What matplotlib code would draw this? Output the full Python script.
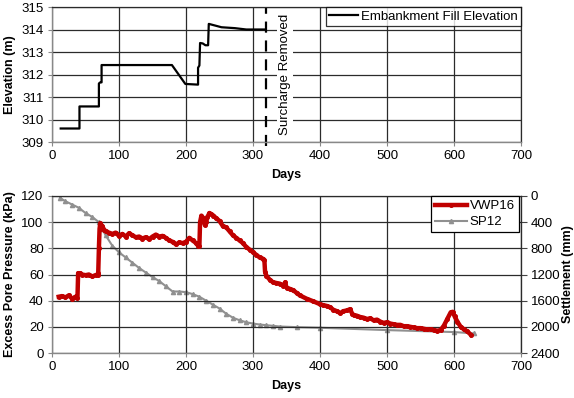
import matplotlib
matplotlib.use("Agg")
import matplotlib.pyplot as plt

plt.rcParams['font.family'] = ['Liberation Sans', 'DejaVu Sans']

# ---- Top chart: embankment fill elevation ----
fill_days = [13, 41, 41, 70, 70, 72, 74, 74, 179, 199, 218, 218, 220, 221, 225, 229, 233, 234, 253, 273, 290, 318]
fill_elev = [309.6, 309.6, 310.58, 310.58, 311.6, 311.65, 311.65, 312.42, 312.42, 311.58, 311.55, 312.3,
             312.4, 313.4, 313.38, 313.3, 313.3, 314.25, 314.1, 314.06, 314.0, 314.0]
surcharge_day = 319

# ---- Bottom chart: VWP16 excess pore pressure ----
vwp_days = [10, 15, 20, 25, 30, 35, 38, 39, 42, 45, 50, 55, 60, 65, 68, 69, 70, 71, 72, 75, 78, 80, 85, 90,
            95, 100, 105, 110, 115, 120, 125, 130, 135, 140, 145, 150, 155, 160, 165, 170, 175, 180, 185,
            190, 195, 200, 205, 210, 215, 218, 220, 221, 223, 226, 228, 230, 232, 235, 238, 241, 245, 250,
            255, 260, 265, 270, 275, 280, 285, 290, 295, 300, 305, 310, 315, 317, 318, 320, 325, 330, 335,
            340, 345, 348, 350, 355, 360, 365, 370, 380, 390, 400, 405, 410, 415, 420, 425, 430, 435, 440,
            445, 448, 450, 455, 460, 465, 470, 475, 480, 485, 490, 495, 500, 505, 510, 515, 520, 525, 530,
            535, 540, 545, 550, 555, 560, 565, 570, 575, 580, 585, 590, 595, 598, 601, 605, 610, 615, 620, 625]
vwp_kpa = [43, 43.5, 42.5, 44, 41.5, 43, 42, 61, 61, 60, 59.5, 60, 58.5, 59.5, 60, 61, 80, 95, 99, 97, 94,
           93, 92, 91, 92, 89.5, 91, 89, 91.5, 90, 88.5, 89, 87.5, 88.5, 87, 89, 90.5, 89, 89.5, 88, 86, 85,
           83, 84.5, 84, 85, 88, 86, 84, 82, 82, 100, 105, 103, 98, 100, 104, 107, 106, 105, 103, 101, 97,
           96, 93, 90, 88, 86, 84, 81, 79, 77, 75, 73, 72, 71, 62, 59, 56, 54, 53.5, 53, 51.5, 54, 50, 49,
           48, 46, 44, 41.5, 39.5, 37.3, 36.5, 36, 35, 33, 32, 30.5, 32, 32.5, 33.5, 30, 29, 28.5, 27.5, 27,
           26, 26.5, 25, 25.5, 24, 23, 23.5, 22.5, 22, 21.5, 21.5, 20.5, 20.5, 20, 19.5, 19, 19, 18.5, 18,
           18, 17.5, 17, 17.5, 21, 26, 31, 31.5, 28, 24, 20, 18, 16.5, 14]

# ---- SP12 settlement (secondary axis, mm) ----
sp_days = [12, 20, 30, 40, 50, 60, 70, 75, 80, 90, 100, 110, 120, 130, 140, 150, 160, 170, 180, 190, 200,
           210, 220, 230, 240, 250, 260, 270, 280, 290, 300, 310, 320, 330, 340, 365, 400, 500, 600, 630]
sp_mm = [30, 80, 130, 180, 260, 320, 400, 500, 600, 760, 860, 940, 1020, 1100, 1170, 1240, 1300, 1380, 1460,
         1460, 1470, 1500, 1540, 1600, 1660, 1720, 1800, 1860, 1900, 1930, 1950, 1965, 1975, 1985, 1995,
         2005, 2014, 2050, 2080, 2100]

x_ticks = [0, 100, 200, 300, 400, 500, 600, 700]
elev_ticks = [309, 310, 311, 312, 313, 314, 315]
kpa_ticks = [0, 20, 40, 60, 80, 100, 120]
mm_ticks = [0, 400, 800, 1200, 1600, 2000, 2400]

fig = plt.figure(figsize=(5.74, 3.98), dpi=100)
W, H = 574, 398

def ax_rect(l, t, r, b):
    return [l / W, 1 - b / H, (r - l) / W, (b - t) / H]

grid_c = '#2b2b2b'
spine_c = '#888888'
fs = 9

def style(ax):
    ax.set_xlim(0, 700)
    ax.set_xticks(x_ticks)
    ax.grid(True, color=grid_c, linewidth=0.9)
    ax.set_axisbelow(True)
    for s in ['left', 'bottom']:
        ax.spines[s].set_color(spine_c)
        ax.spines[s].set_linewidth(1.0)
    for s in ['top', 'right']:
        ax.spines[s].set_color(grid_c)
        ax.spines[s].set_linewidth(0.9)
    ax.tick_params(axis='both', labelsize=fs + 0.5, length=3, color=spine_c, pad=3)
    ax.set_xlabel('Days', fontsize=fs, fontweight='bold', labelpad=5)

# Top
ax1 = fig.add_axes(ax_rect(52, 7, 521, 142))
style(ax1)
ax1.set_ylim(309, 315)
ax1.set_yticks(elev_ticks)
ax1.plot(fill_days, fill_elev, color='black', linewidth=1.6, label='Embankment Fill Elevation')
ax1.axvline(surcharge_day, ymin=-0.03, ymax=1, color='black', linewidth=1.6, dashes=(5, 3.5), clip_on=False)
ax1.text(348, 312, 'Surcharge Removed', rotation=90, ha='center', va='center', fontsize=fs + 0.5,
         bbox=dict(facecolor='white', edgecolor='none', pad=1.5))
ax1.set_ylabel('Elevation (m)', fontsize=fs, fontweight='bold', labelpad=4)
leg1 = ax1.legend(loc='upper right', fontsize=fs + 0.5, frameon=True, fancybox=False, borderaxespad=0,
                  handlelength=2.2, handletextpad=0.2, borderpad=0.25)
leg1.get_frame().set_edgecolor('black')
leg1.get_frame().set_linewidth(0.9)

# Bottom
ax2 = fig.add_axes(ax_rect(52, 196, 521, 353))
style(ax2)
ax2.set_ylim(0, 120)
ax2.set_yticks(kpa_ticks)
ax2.set_ylabel('Excess Pore Pressure (kPa)', fontsize=fs, fontweight='bold', labelpad=4)
l1, = ax2.plot(vwp_days, vwp_kpa, color='#c00000', linewidth=3.2, marker='o', markersize=2.6,
               label='VWP16', zorder=4)

ax3 = ax2.twinx()
ax3.set_ylim(2400, 0)
ax3.set_yticks(mm_ticks)
ax3.tick_params(axis='y', labelsize=fs + 0.5, length=4, color='#444444', pad=3)
for s in ax3.spines.values():
    s.set_visible(False)
ax3.spines['right'].set_visible(True)
ax3.spines['right'].set_color('#444444')
ax3.set_ylabel('Settlement (mm)', fontsize=fs, fontweight='bold', labelpad=1)
l2, = ax3.plot(sp_days, sp_mm, color='#909090', linewidth=1.5, marker='^', markersize=3.0,
               label='SP12', zorder=3)
ax2.set_zorder(ax3.get_zorder() + 1)
ax2.patch.set_visible(False)

leg2 = ax2.legend(handles=[l1, l2], loc='upper right', fontsize=fs + 0.5, frameon=True, fancybox=False,
                  borderaxespad=0, bbox_to_anchor=(0.995, 1.0), handlelength=2.4, handletextpad=0.2,
                  borderpad=0.3, labelspacing=0.3)
leg2.get_frame().set_edgecolor('black')
leg2.get_frame().set_linewidth(0.9)
leg2.get_frame().set_alpha(1)

fig.savefig('out.png', dpi=100)
